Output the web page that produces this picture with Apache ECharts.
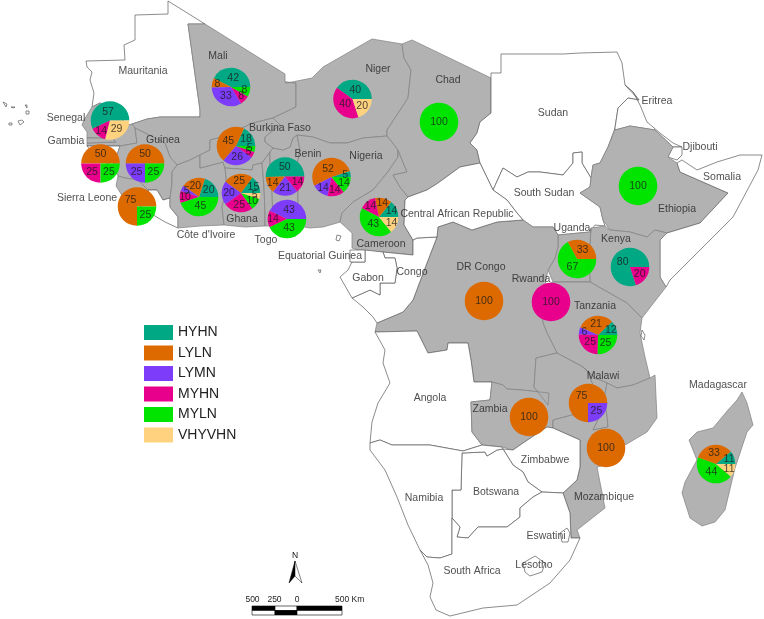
<!DOCTYPE html>
<html><head><meta charset="utf-8">
<style>html,body{margin:0;padding:0;background:#fff}#c{width:764px;height:619px}</style>
<script src="https://cdn.jsdelivr.net/npm/echarts@6/dist/echarts.min.js"></script>
</head><body><div id="c"></div>
<script>
// ---- data ----
const classes = ['HYHN','LYLN','LYMN','MYHN','MYLN','VHYVHN'];
const pieCountries = ['Senegal','Gambia','Guinea','Sierra Leone','Mali','Burkina Faso',"Cote d'Ivoire",'Ghana','Benin','Togo','Niger','Chad','Nigeria','Cameroon','Ethiopia','Uganda','Kenya','Rwanda','Tanzania','DR Congo','Zambia','Malawi','Mozambique','Madagascar'];
const HYHN   = [57,0,0,0,42,18,20,15,50,0,40,0,5,14,0,0,80,0,12,0,0,0,0,11];
const LYLN   = [0,50,50,75,8,45,20,25,14,0,0,0,52,14,0,33,0,0,31,100,100,75,100,33];
const LYMN   = [0,0,25,0,33,26,5,20,21,43,0,0,14,0,0,0,0,0,6,0,0,25,0,0];
const MYHN   = [14,25,0,0,8,5,10,25,14,14,40,0,14,14,0,0,20,100,25,0,0,0,0,0];
const MYLN   = [0,25,25,25,8,5,45,10,0,43,0,100,14,43,100,67,0,0,25,0,0,0,0,44];
const VHYVHN = [29,0,0,0,0,0,0,5,0,0,20,0,0,14,0,0,0,0,0,0,0,0,0,11];
// The reference prints 21 on Tanzania's LYLN slice although the slice spans about 31 %.
const printedOverride = {'Tanzania|LYLN': 21};
const classColors = ['#00a884','#dc6a00','#7d3cfa','#e8008c','#00e400','#ffd27f'];
const pieCenters = [[110,120.5],[100.5,163.5],[145,163.5],[137,206.5],[231,87],[236,146],[199,197],[241,193],[285,176.5],[287,219],[352.5,99],[439,122],[331.5,177],[379,217],[638,186],[577,259],[630,267],[551,302],[598,335],[484,301],[529,417],[588,403],[606,448],[716,464]];
const shaded = ['Mali','Senegal','Gambia','Guinea','Sierra Leone',"Cote d'Ivoire",'Burkina Faso','Ghana','Togo','Benin','Niger','Nigeria','Cameroon','Chad','Ethiopia','Uganda','Kenya','Tanzania','DR Congo','Zambia','Malawi','Mozambique','Madagascar'];
const countryLabels = [['Mauritania',143,71],['Mali',218,56],['Senegal',66,118],['Gambia',66,141],['Guinea',163,140],['Sierra Leone',87,198],["Côte d'Ivoire",206,235],['Ghana',242,219],['Togo',266,240],['Burkina Faso',280,128],['Benin',308,154],['Nigeria',366,156],['Niger',378,69],['Chad',448,80],['Sudan',553,113],['South Sudan',544,193],['Central African Republic',457,214],['Cameroon',381,244],['Equatorial Guinea',320,256],['Gabon',368,278],['Congo',412,272],['DR Congo',481,267],['Rwanda',531,279],['Uganda',572,228],['Kenya',616,239],['Tanzania',595,306],['Ethiopia',677,209],['Somalia',722,177],['Djibouti',700,147],['Eritrea',657,101],['Malawi',603,376],['Zambia',490,409],['Angola',430,398],['Zimbabwe',545,460],['Mozambique',604,497],['Botswana',496,492],['Namibia',424,498],['Eswatini',546,536],['Lesotho',534,565],['South Africa',472,571],['Madagascar',718,385]];
const outlines = {
 'Mauritania':'168,1 168,14 135,15 135,40 124,45 125,60 86,61 87,67 92,72 90,80 94,93 92,107 100,103 110,108 120,118 129,125 132,124 147,119 160,117 200,117 200,110 188,24 205,24',
 'Mali':'188,24 205,24 285,74 285,82 296,83 296,107 273,118 253,123 242,128 218,138 210,140 210,150 200,155 190,160 177,165 170,157 165,143 135,128 132,124 147,119 160,117 200,117 200,110',
 'Senegal':'92,107 84,120 82,125 87,132 87,138 112,138 116,142 87,143 87,146 120,146 137,143 135,128 132,124 129,125 120,118 110,108 100,103',
 'Gambia':'87,138 112,138 116,142 87,143',
 'Guinea-Bissau':'87,146 120,146 118,152 113,165 103,162 95,155',
 'Guinea':'120,146 137,143 135,128 165,143 170,157 177,165 172,172 172,183 170,198 163,200 157,190 148,190 138,180 125,178 118,176 113,165 118,152',
 'Sierra Leone':'118,176 125,178 138,180 148,190 150,197 140,206 125,200 116,186',
 'Liberia':'148,190 157,190 163,200 170,198 170,207 178,217 178,228 165,222 155,216 140,206 150,197',
 "Cote d'Ivoire":'172,172 177,165 190,160 200,155 200,168 223,162 225,168 227,187 222,207 224,225 200,226 178,228 178,217 170,207 170,198 172,183',
 'Burkina Faso':'218,138 242,128 253,123 273,118 280,125 265,137 265,142 273,148 270,152 262,163 253,165 252,170 225,168 223,162 200,168 200,155 210,150 210,140',
 'Ghana':'225,168 252,170 253,165 262,163 264,187 265,213 265,226 245,227 224,225 222,207 227,187',
 'Togo':'262,163 270,152 270,165 272,190 273,226 265,226 265,213 264,187',
 'Benin':'270,152 273,148 283,150 290,147 293,138 297,135 300,150 297,165 298,190 298,226 273,226 272,190 270,165',
 'Niger':'402,44 372,39 323,67 312,78 287,83 285,82 296,83 296,107 273,118 280,125 265,137 265,142 273,148 283,150 290,147 293,138 297,135 313,137 330,143 347,143 363,138 387,136 387,130 408,98 411,70 404,58',
 'Nigeria':'297,135 313,137 330,143 347,143 363,138 387,136 392,142 398,150 398,157 387,173 373,190 353,202 342,213 340,222 337,223 323,227 310,228 298,226 298,190 297,165 300,150',
 'Cameroon':'398,150 398,157 387,173 373,190 353,202 342,213 340,222 352,233 352,248 365,252 383,252 413,255 413,240 404,225 405,200 408,197 400,187 393,175 407,172',
 'Chad':'402,44 412,40 491,78 491,113 480,122 477,133 470,143 477,150 480,163 460,167 438,183 427,190 408,197 400,187 393,175 407,172 398,150 392,142 387,136 387,130 408,98 411,70 404,58',
 'Sudan':'501,54 563,54 580,53 617,52 622,63 625,85 633,92 639,100 628,98 618,108 615,128 608,147 600,163 593,165 591,178 582,163 582,152 573,153 573,163 563,175 540,172 528,172 517,177 503,168 493,190 480,163 477,150 470,143 477,133 480,122 491,113 491,73 501,73',
 'South Sudan':'493,190 503,168 517,177 528,172 540,172 563,175 573,163 573,153 582,152 582,163 591,178 590,187 580,193 600,207 603,220 605,226 595,225 590,232 558,235 553,227 533,227 523,220 517,213 507,200',
 'Eritrea':'625,85 633,92 640,105 647,122 660,133 673,143 682,147 673,147 655,130 630,126 615,130 615,128 618,108 628,98 639,100',
 'Djibouti':'673,147 682,147 682,155 677,160 668,157',
 'Ethiopia':'615,130 630,126 655,130 673,147 668,157 677,163 680,172 728,193 700,223 667,233 655,230 647,237 630,232 610,230 603,220 600,207 580,193 590,187 591,178 593,165 600,163 608,147',
 'Somalia':'677,163 682,160 697,170 717,162 740,155 762,155 758,170 733,217 700,250 670,280 666,287 660,277 660,240 667,233 700,223 728,193 680,172',
 'Kenya':'591,228 605,226 610,230 630,232 647,237 655,230 667,233 660,240 660,277 666,287 652,305 642,318 627,303 590,282 589,260',
 'Uganda':'558,235 590,232 591,228 589,260 590,282 553,282 548,270 555,258 558,247',
 'Tanzania':'553,282 590,282 627,303 642,318 640,333 645,357 650,378 633,385 617,388 607,383 595,378 583,367 557,353 547,333 543,323 540,305 545,285',
 'DR Congo':'438,227 453,222 472,230 497,222 523,220 533,227 553,227 558,235 558,247 555,258 548,270 545,285 540,305 543,323 547,333 557,353 536,358 534,387 548,405 549,393 522,390 507,389 503,385 492,382 474,382 471,360 468,343 448,343 447,350 428,353 417,331 375,332 377,323 403,312 413,300 427,263 437,237',
 'Congo':'383,252 413,255 413,240 417,238 437,237 427,263 413,300 403,312 377,323 373,317 363,307 352,298 370,290 380,295 380,283 395,283 397,268 395,258 385,258',
 'Gabon':'352,262 365,262 365,250 383,252 385,258 395,258 397,268 395,283 380,283 380,295 370,290 352,298 340,277 348,270',
 'Equatorial Guinea':'350,250 365,250 365,262 350,262',
 'Central African Republic':'408,197 427,190 438,183 460,167 480,163 493,190 507,200 517,213 523,220 497,222 472,230 453,222 438,227 437,237 417,238 413,240 404,225 405,200',
 'Angola':'375,332 417,331 428,353 447,350 448,343 468,343 471,360 474,382 492,382 490,400 471,402 472,432 482,445 463,451 430,445 392,445 380,440 370,443 372,422 378,403 390,383 383,363 385,350',
 'Zambia':'492,382 503,385 507,389 522,390 549,393 548,405 534,387 536,358 557,353 583,367 588,372 595,390 600,415 572,415 553,420 553,428 547,427 523,443 513,450 502,447 482,445 472,432 471,402 490,400',
 'Malawi':'583,367 595,378 607,383 604,400 607,415 608,427 593,430 600,415 595,390 588,372',
 'Mozambique':'650,378 655,375 657,418 647,432 625,445 605,465 597,467 605,508 577,530 580,538 571,538 570,513 563,493 577,480 580,467 580,440 553,428 553,420 572,415 600,415 593,430 608,427 607,415 604,400 607,383 617,388 633,385',
 'Zimbabwe':'523,443 547,427 553,428 580,440 580,467 577,480 563,493 542,492 528,482 523,472 513,465 503,449 513,450',
 'Botswana':'462,453 485,452 487,456 497,450 503,449 513,465 523,472 528,482 542,492 533,497 520,508 520,517 507,527 478,527 468,538 457,537 460,527 452,518 452,490 461,490',
 'Namibia':'370,443 380,440 392,445 430,445 463,451 482,445 502,447 503,449 497,450 487,456 485,452 462,453 461,490 452,490 452,554 440,558 427,557 420,550 408,525 397,497 385,470 370,450',
 'South Africa':'420,550 427,557 440,558 452,554 452,518 460,527 457,537 468,538 478,527 507,527 520,517 520,508 533,497 542,492 563,493 570,513 571,538 580,538 570,560 550,583 517,605 483,608 450,616 436,610 430,597 433,583 428,565',
 'Lesotho':'523,563 535,556 545,563 542,572 530,576 525,572',
 'Eswatini':'560,533 567,528 570,533 568,542 562,542',
 'Madagascar':'742,392 747,403 753,425 747,432 735,468 725,510 715,522 702,526 690,518 682,493 685,482 697,460 689,440 697,432 713,428 728,410 737,400',
 'Zanzibar':'642,330 645,335 644,340 641,336',
 'Bioko':'337,235 341,236 339,241 336,240',
 'Sao Tome':'318,270 321,270 320,273',
 'Cape Verde 1':'3,102 7,104 6,107','Cape Verde 2':'11,107 15,107 14,108','Cape Verde 3':'25,105 27,105 27,108','Cape Verde 4':'26,111 29,111 29,114 26,114','Cape Verde 5':'9,123 12,123 12,125 9,125','Cape Verde 6':'18,121 22,120 24,122 20,125'
};
const scaleLabels = ['500','250','0','500 Km'];

// ---- map and chart ----
const H = 619, R = 19.3;
const geoJson = {type:'FeatureCollection',features:Object.keys(outlines).map(name=>({
  type:'Feature',properties:{name},
  geometry:{type:'Polygon',coordinates:[outlines[name].split(' ').map(p=>{const [x,y]=p.split(',').map(Number);return [x,H-y];})]}
}))};
echarts.registerMap('af',geoJson);

const classValues = [HYHN,LYLN,LYMN,MYHN,MYLN,VHYVHN];
// Share of the radius where a slice's number sits: small slices push it outward.
function labelReach(share){ if(share>=0.995) return 0; if(share<=0.15) return 0.72; if(share<=0.25) return 0.62; if(share<=0.35) return 0.56; return 0.47; }
const pieValueLabels = [];
const pieSeries = pieCountries.map((c,i)=>{
  const data = classes.map((k,j)=>({name:k,value:classValues[j][i],itemStyle:{color:classColors[j]}})).filter(d=>d.value>0);
  const total = data.reduce((s,d)=>s+d.value,0);
  let run = 0;
  data.forEach(d=>{
    const mid = (run + d.value/2)/total*2*Math.PI; run += d.value;
    const reach = labelReach(d.value/total)*R;
    const text = printedOverride[c+'|'+d.name]!==undefined?printedOverride[c+'|'+d.name]:d.value;
    pieValueLabels.push({name:String(text),value:[pieCenters[i][0]+reach*Math.cos(mid),H-pieCenters[i][1]+reach*Math.sin(mid)]});
  });
  return {type:'pie',coordinateSystem:'geo',geoIndex:0,center:[pieCenters[i][0],H-pieCenters[i][1]],radius:R,
    startAngle:0,clockwise:false,silent:true,animation:false,z:5,
    label:{show:false},labelLine:{show:false},emphasis:{disabled:true},data};
});
const chart = echarts.init(document.getElementById('c'),null,{renderer:'canvas'});

function scaleRect(x0,x1,y,h,fill){return {type:'rect',shape:{x:x0,y:y,width:x1-x0,height:h},style:{fill:fill,stroke:'#000',lineWidth:0.6},silent:true};}
const sx=[252,275,297,342];
const gfx=[
 scaleRect(sx[0],sx[1],606,4.5,'#000'),scaleRect(sx[0],sx[1],610.5,4.5,'#fff'),
 scaleRect(sx[1],sx[2],606,4.5,'#fff'),scaleRect(sx[1],sx[2],610.5,4.5,'#000'),
 scaleRect(sx[2],sx[3],606,4.5,'#000'),scaleRect(sx[2],sx[3],610.5,4.5,'#fff'),
 {type:'polygon',shape:{points:[[295,561],[289,583],[295,576]]},style:{fill:'#000',stroke:'#000',lineWidth:0.5},silent:true},
 {type:'polygon',shape:{points:[[295,561],[302,583],[295,576]]},style:{fill:'#fff',stroke:'#000',lineWidth:0.5},silent:true},
 {type:'text',x:295,y:556,style:{text:'N',fontFamily:'Liberation Sans',fontSize:8.5,fill:'#111',align:'center',verticalAlign:'middle'},silent:true}
];
[252.5,274.5,297,335].forEach((x,i)=>gfx.push({type:'text',x:x,y:600,style:{text:scaleLabels[i],fontFamily:'Liberation Sans',fontSize:8.5,fill:'#222',align:i===3?'left':'center',verticalAlign:'middle'},silent:true}));

function textLayer(data,size,color){return {
    type:'scatter',coordinateSystem:'geo',geoIndex:0,symbolSize:1,silent:true,z:10,
    itemStyle:{color:'transparent'},
    label:{show:true,position:'inside',formatter:p=>p.name,fontFamily:'Liberation Sans',fontSize:size,color:color},
    emphasis:{disabled:true},data};}

chart.setOption({
  animation:false,
  backgroundColor:'#fff',
  geo:{map:'af',left:0,top:0,width:764,height:619,aspectScale:1,boundingCoords:[[0,619],[764,0]],roam:false,silent:true,
    label:{show:false},
    itemStyle:{areaColor:'#fff',borderColor:'#5a5a5a',borderWidth:0.7},
    regions:shaded.map(n=>({name:n,itemStyle:{areaColor:'#b2b2b2',borderColor:'#808080',borderWidth:0.7}}))
  },
  legend:{orient:'vertical',left:144,top:325,padding:0,itemWidth:29,itemHeight:15,itemGap:5.5,data:classes,selectedMode:false,icon:'rect',
    textStyle:{fontFamily:'Liberation Sans',fontSize:14,color:'#222'}},
  graphic:gfx,
  series:pieSeries.concat([
    textLayer(pieValueLabels,10.5,'#1c1c1c'),
    textLayer(countryLabels.map(l=>({name:l[0],value:[l[1],H-l[2]]})),10.5,'#222')
  ])
});
</script></body></html>
